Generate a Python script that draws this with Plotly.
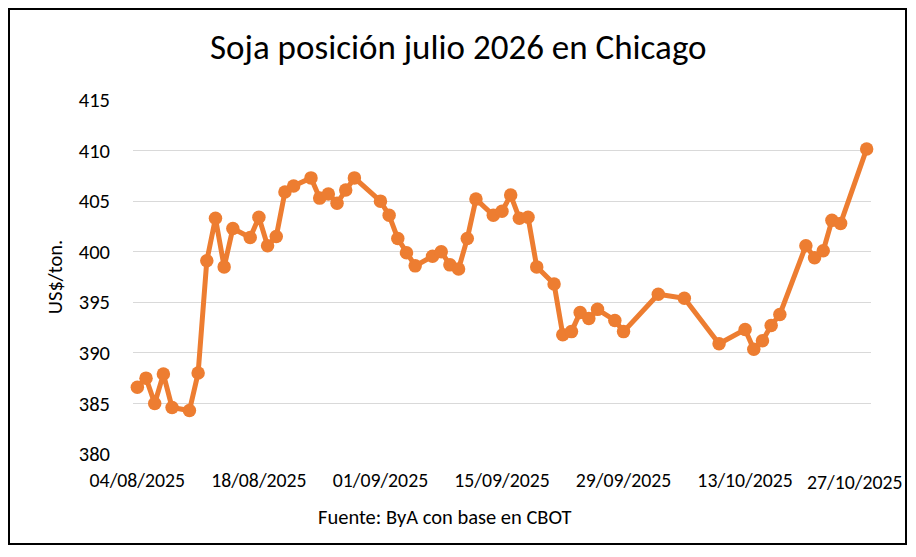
import plotly.graph_objects as go

dates = [
    "2025-08-04", "2025-08-05", "2025-08-06", "2025-08-07", "2025-08-08",
    "2025-08-10", "2025-08-11", "2025-08-12", "2025-08-13", "2025-08-14", "2025-08-15",
    "2025-08-17", "2025-08-18", "2025-08-19", "2025-08-20", "2025-08-21", "2025-08-22",
    "2025-08-24", "2025-08-25", "2025-08-26", "2025-08-27", "2025-08-28", "2025-08-29",
    "2025-09-01", "2025-09-02", "2025-09-03", "2025-09-04", "2025-09-05",
    "2025-09-07", "2025-09-08", "2025-09-09", "2025-09-10", "2025-09-11", "2025-09-12",
    "2025-09-14", "2025-09-15", "2025-09-16", "2025-09-17", "2025-09-18", "2025-09-19",
    "2025-09-21", "2025-09-22", "2025-09-23", "2025-09-24", "2025-09-25", "2025-09-26",
    "2025-09-28", "2025-09-29", "2025-10-03", "2025-10-06", "2025-10-10",
    "2025-10-13", "2025-10-14", "2025-10-15", "2025-10-16", "2025-10-17",
    "2025-10-20", "2025-10-21", "2025-10-22", "2025-10-23", "2025-10-24",
    "2025-10-27",
]
prices = [
    386.6, 387.5, 385.0, 387.9, 384.6,
    384.3, 388.0, 399.1, 403.3, 398.5, 402.3,
    401.4, 403.4, 400.6, 401.5, 405.9, 406.5,
    407.3, 405.3, 405.7, 404.8, 406.1, 407.3,
    405.0, 403.6, 401.3, 399.9, 398.6,
    399.55, 400.0, 398.7, 398.3, 401.3, 405.2,
    403.6, 404.0, 405.6, 403.3, 403.4, 398.5,
    396.8, 391.8, 392.1, 394.0, 393.4, 394.3,
    393.2, 392.1, 395.8, 395.4, 390.9,
    392.3, 390.35, 391.2, 392.7, 393.8,
    400.6, 399.4, 400.1, 403.1, 402.8,
    410.16,
]
tick_dates = ["2025-08-04", "2025-08-18", "2025-09-01", "2025-09-15",
              "2025-09-29", "2025-10-13", "2025-10-27"]
tick_labels = ["04/08/2025", "18/08/2025", "01/09/2025", "15/09/2025",
               "29/09/2025", "13/10/2025", "27/10/2025"]
y_ticks = [380, 385, 390, 395, 400, 405, 410, 415]

title_text = "Soja posición julio 2026 en Chicago"
y_title = "US$/ton."
source_text = "Fuente: ByA con base en CBOT"

# page offset (default body margin of the html page)
OFF = 8
W, H = 916 - OFF, 557 - OFF
L, R = 133 - OFF, 871 - OFF      # plot area left/right in figure px
T, B = 100 - OFF, 454 - OFF      # plot area top/bottom in figure px
PW, PH = R - L, B - T

def px(xp):
    return (xp - OFF - L) / PW

def py(yp):
    return (B - (yp - OFF)) / PH

FONT = "Carlito, Calibri, Lato, sans-serif"
ORANGE = "#ED7D31"
FS = 20.5
XFS = 19.8

fig = go.Figure()
fig.add_trace(go.Scatter(
    x=dates, y=prices, mode="lines+markers",
    line=dict(color=ORANGE, width=5),
    marker=dict(color=ORANGE, size=13.5),
    cliponaxis=False,
    showlegend=False,
))

fig.update_layout(
    width=W, height=H,
    margin=dict(l=L, r=W - R, t=T, b=H - B, pad=0),
    paper_bgcolor="white", plot_bgcolor="white",
    font=dict(family=FONT, color="black", size=FS),
    xaxis=dict(
        type="date",
        range=["2025-08-03 12:00", "2025-10-27 12:00"],
        tickvals=tick_dates[:-1], ticktext=tick_labels[:-1],
        showgrid=False, zeroline=False, showline=False, ticks="",
        tickfont=dict(size=XFS), ticklabelstandoff=12,
    ),
    yaxis=dict(
        range=[380, 415], tickvals=y_ticks,
        showgrid=True, gridcolor="#D9D9D9", gridwidth=1.3,
        zeroline=False, showline=False, ticks="",
        tickfont=dict(size=FS), ticklabelstandoff=22,
        title=dict(text=y_title, font=dict(size=FS), standoff=10),
    ),
    annotations=[
        dict(text=title_text, xref="paper", yref="paper",
             x=px(458), y=py(47),
             xanchor="center", yanchor="middle", showarrow=False,
             font=dict(size=35, family=FONT, color="black")),
        dict(text=source_text, xref="paper", yref="paper",
             x=px(445), y=py(517),
             xanchor="center", yanchor="middle", showarrow=False,
             font=dict(size=FS, family=FONT, color="black")),
        # last date label, kept inside the chart border
        dict(text=tick_labels[-1], xref="x", yref="paper",
             x=tick_dates[-1], y=py(482), xshift=38,
             xanchor="right", yanchor="middle", showarrow=False,
             font=dict(size=XFS, family=FONT, color="black")),
    ],
    shapes=[
        dict(type="rect", xref="paper", yref="paper", layer="above",
             x0=px(9), x1=px(906), y0=py(544), y1=py(9),
             fillcolor="rgba(0,0,0,0)", line=dict(color="black", width=2)),
    ],
)

fig.write_html("out.html")
